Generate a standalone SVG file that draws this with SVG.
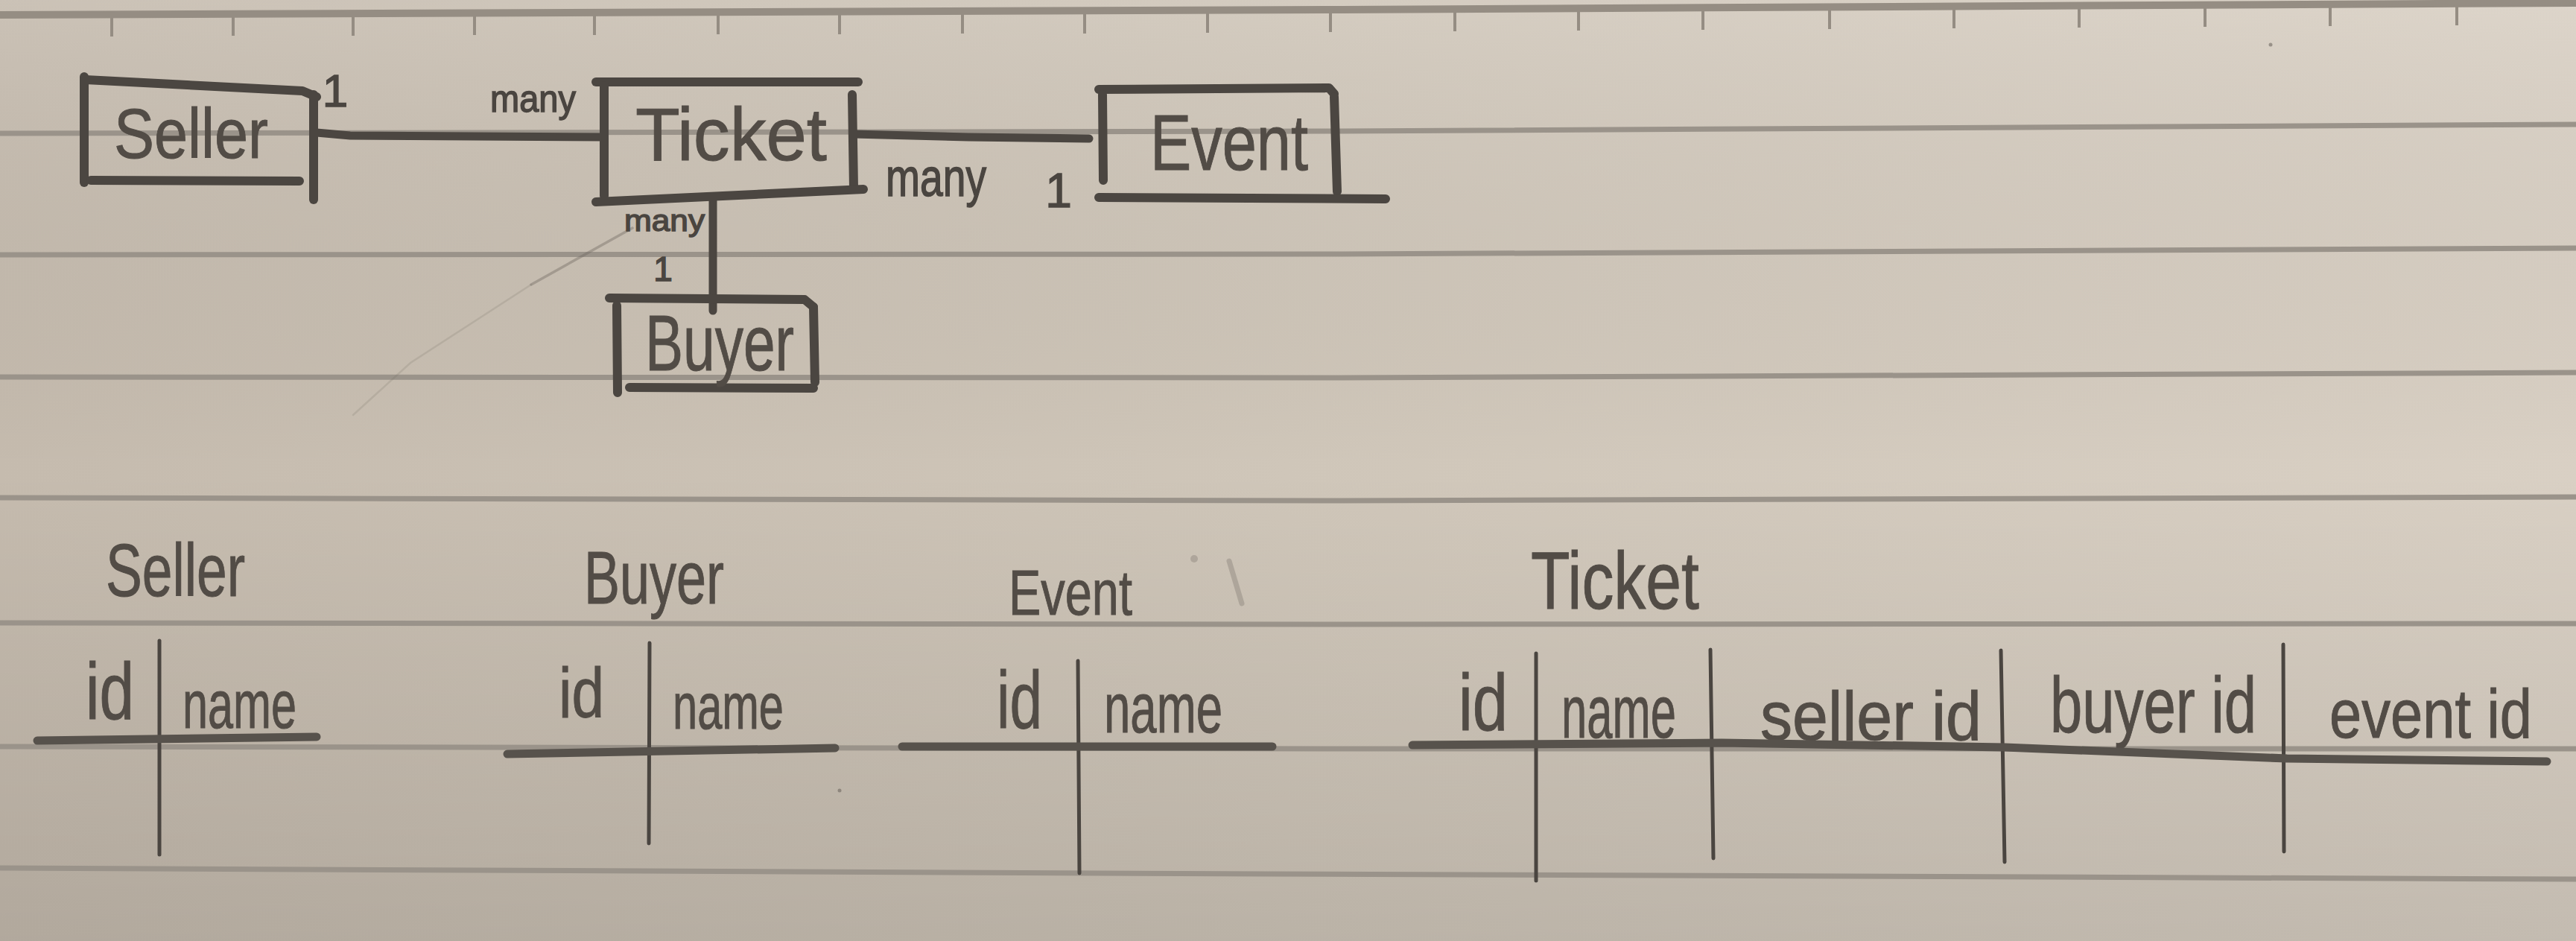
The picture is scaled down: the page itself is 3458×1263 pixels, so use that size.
<svg xmlns="http://www.w3.org/2000/svg" width="3458" height="1263" viewBox="0 0 3458 1263">
  <defs>
    <linearGradient id="paperH" x1="0" y1="0" x2="1" y2="0">
      <stop offset="0" stop-color="#c5bbae"/>
      <stop offset="0.5" stop-color="#cfc6b9"/>
      <stop offset="1" stop-color="#d9d0c4"/>
    </linearGradient>
    <linearGradient id="paperV" x1="0" y1="0" x2="0" y2="1">
      <stop offset="0" stop-color="#ffffff" stop-opacity="0.10"/>
      <stop offset="0.5" stop-color="#000000" stop-opacity="0"/>
      <stop offset="1" stop-color="#000000" stop-opacity="0.10"/>
    </linearGradient>
    <style>
      .rule { fill: none; stroke: #9a938a; stroke-width: 7; stroke-linecap: round; }
      .rule-top { fill: none; stroke: #958d83; stroke-width: 10; stroke-linecap: round; }
      .tick { fill: none; stroke: #958d83; stroke-width: 4; }
      .box { fill: none; stroke: #4b4641; stroke-width: 12; stroke-linecap: round; stroke-linejoin: round; }
      .conn { fill: none; stroke: #4b4641; stroke-width: 11; stroke-linecap: round; }
      .hdr { fill: none; stroke: #57524c; stroke-width: 11; stroke-linecap: round; stroke-linejoin: round; }
      .col { fill: none; stroke: #4a4540; stroke-width: 5; stroke-linecap: round; }
      .faint { fill: none; stroke: #6e6760; stroke-linecap: round; }
      .hw { font-family: "Liberation Sans", Arial, sans-serif; fill: #524c46; stroke: #524c46; stroke-width: 1; }
      .lbl { font-family: "Liberation Sans", Arial, sans-serif; fill: #4a4540; stroke: #4a4540; stroke-width: 1.5; }
    </style>
  </defs>

  <g id="paper">
    <rect x="0" y="0" width="3458" height="1263" fill="url(#paperH)"/>
    <rect x="0" y="0" width="3458" height="1263" fill="url(#paperV)"/>
    <polyline class="rule-top" points="0,20 1800,13 3458,4"/>
    <polyline class="rule" points="0,179 1800,176 3458,167"/>
    <polyline class="rule" points="0,342 1800,341 3458,333"/>
    <polyline class="rule" points="0,506 1800,507 3458,500"/>
    <polyline class="rule" points="0,668 1800,672 3458,667"/>
    <polyline class="rule" points="0,836 1800,838 3458,837"/>
    <polyline class="rule" points="0,1002 1800,1005 3458,1005"/>
    <polyline class="rule" points="0,1165 1700,1173 3458,1180"/>
    <g id="ticks">
      <line class="tick" x1="150" y1="18" x2="150" y2="49"/>
      <line class="tick" x1="313" y1="17" x2="313" y2="48"/>
      <line class="tick" x1="474" y1="17" x2="474" y2="48"/>
      <line class="tick" x1="637" y1="16" x2="637" y2="47"/>
      <line class="tick" x1="798" y1="16" x2="798" y2="47"/>
      <line class="tick" x1="964" y1="16" x2="964" y2="46"/>
      <line class="tick" x1="1127" y1="15" x2="1127" y2="46"/>
      <line class="tick" x1="1292" y1="15" x2="1292" y2="45"/>
      <line class="tick" x1="1456" y1="14" x2="1456" y2="45"/>
      <line class="tick" x1="1621" y1="14" x2="1621" y2="44"/>
      <line class="tick" x1="1786" y1="13" x2="1786" y2="43"/>
      <line class="tick" x1="1953" y1="12" x2="1953" y2="42"/>
      <line class="tick" x1="2119" y1="11" x2="2119" y2="41"/>
      <line class="tick" x1="2286" y1="10" x2="2286" y2="40"/>
      <line class="tick" x1="2456" y1="9" x2="2456" y2="39"/>
      <line class="tick" x1="2623" y1="8" x2="2623" y2="38"/>
      <line class="tick" x1="2791" y1="7" x2="2791" y2="37"/>
      <line class="tick" x1="2960" y1="6" x2="2960" y2="36"/>
      <line class="tick" x1="3128" y1="5" x2="3128" y2="35"/>
      <line class="tick" x1="3298" y1="4" x2="3298" y2="34"/>
    </g>
    <g id="stray-marks">
      <path class="faint" d="M849,306 L713,382" stroke-width="3.5" opacity="0.4"/>
      <path class="faint" d="M713,382 L551,487 L474,557" stroke-width="2.5" opacity="0.18"/>
      <path class="faint" d="M1650,753 L1667,810" stroke-width="7" opacity="0.3"/>
      <circle cx="1603" cy="750" r="5" fill="#6e6760" opacity="0.3"/>
      <circle cx="3048" cy="60" r="2.5" fill="#6e6760" opacity="0.6"/>
      <circle cx="1127" cy="1061" r="2.5" fill="#6e6760" opacity="0.6"/>
    </g>
  </g>

  <g id="connectors">
    <path class="conn" d="M425,178 L470,182 L811,184"/>
    <path class="conn" d="M1146,180 L1300,184 L1462,186"/>
    <path class="conn" d="M957,268 L957,417"/>
  </g>

  <g id="connector-labels">
    <text class="lbl" x="450" y="143" font-size="62" text-anchor="middle">1</text>
    <text class="lbl" x="658" y="150" font-size="52" textLength="115" lengthAdjust="spacingAndGlyphs">many</text>
    <text class="lbl" x="1189" y="263" font-size="72" textLength="135" lengthAdjust="spacingAndGlyphs">many</text>
    <text class="lbl" x="1421" y="278" font-size="64" text-anchor="middle">1</text>
    <text class="lbl" x="838" y="310" font-size="40" textLength="108" lengthAdjust="spacingAndGlyphs">many</text>
    <text class="lbl" x="890" y="377" font-size="46" text-anchor="middle">1</text>
  </g>

  <g id="node-seller">
    <path class="box" d="M115,107 L406,122 L425,130"/>
    <path class="box" d="M113,103 L113,245"/>
    <path class="box" d="M122,242 L402,243"/>
    <path class="box" d="M421,127 L421,268"/>
    <text class="hw" x="153" y="212" font-size="95" textLength="207" lengthAdjust="spacingAndGlyphs">Seller</text>
  </g>

  <g id="node-ticket">
    <path class="box" d="M800,110 L1152,110"/>
    <path class="box" d="M811,115 L811,263"/>
    <path class="box" d="M1144,127 L1146,253"/>
    <path class="box" d="M800,271 L1159,254"/>
    <text class="hw" x="853" y="215" font-size="100" textLength="257" lengthAdjust="spacingAndGlyphs">Ticket</text>
  </g>

  <g id="node-event">
    <path class="box" d="M1475,120 L1784,118 L1791,126"/>
    <path class="box" d="M1480,127 L1481,242"/>
    <path class="box" d="M1791,130 L1795,257"/>
    <path class="box" d="M1475,265 L1860,267"/>
    <text class="hw" x="1544" y="228" font-size="105" textLength="212" lengthAdjust="spacingAndGlyphs">Event</text>
  </g>

  <g id="node-buyer">
    <path class="box" d="M818,400 L1080,402 L1092,412"/>
    <path class="box" d="M828,410 L829,527"/>
    <path class="box" d="M1092,412 L1094,513"/>
    <path class="box" d="M845,520 L1092,521"/>
    <text class="hw" x="866" y="497" font-size="105" textLength="200" lengthAdjust="spacingAndGlyphs">Buyer</text>
  </g>

  <g id="table-seller">
    <text class="hw" x="142" y="800" font-size="100" textLength="187" lengthAdjust="spacingAndGlyphs">Seller</text>
    <text class="hw" x="115" y="965" font-size="108" textLength="65" lengthAdjust="spacingAndGlyphs">id</text>
    <text class="hw" x="245" y="977" font-size="90" textLength="153" lengthAdjust="spacingAndGlyphs">name</text>
    <path class="col" d="M214,860 L214,1147"/>
    <path class="hdr" d="M50,994 L425,989"/>
  </g>

  <g id="table-buyer">
    <text class="hw" x="784" y="810" font-size="100" textLength="188" lengthAdjust="spacingAndGlyphs">Buyer</text>
    <text class="hw" x="750" y="963" font-size="95" textLength="61" lengthAdjust="spacingAndGlyphs">id</text>
    <text class="hw" x="903" y="978" font-size="88" textLength="149" lengthAdjust="spacingAndGlyphs">name</text>
    <path class="col" d="M872,863 L871,1132"/>
    <path class="hdr" d="M681,1012 L1121,1004"/>
  </g>

  <g id="table-event">
    <text class="hw" x="1354" y="825" font-size="85" textLength="166" lengthAdjust="spacingAndGlyphs">Event</text>
    <text class="hw" x="1338" y="977" font-size="110" textLength="61" lengthAdjust="spacingAndGlyphs">id</text>
    <text class="hw" x="1482" y="983" font-size="95" textLength="159" lengthAdjust="spacingAndGlyphs">name</text>
    <path class="col" d="M1447,887 L1449,1172"/>
    <path class="hdr" d="M1211,1002 L1708,1002"/>
  </g>

  <g id="table-ticket">
    <text class="hw" x="2055" y="817" font-size="110" textLength="226" lengthAdjust="spacingAndGlyphs">Ticket</text>
    <text class="hw" x="1958" y="980" font-size="108" textLength="66" lengthAdjust="spacingAndGlyphs">id</text>
    <text class="hw" x="2096" y="990" font-size="100" textLength="154" lengthAdjust="spacingAndGlyphs">name</text>
    <text class="hw" x="2363" y="993" font-size="92" textLength="297" lengthAdjust="spacingAndGlyphs">seller id</text>
    <text class="hw" x="2752" y="983" font-size="105" textLength="277" lengthAdjust="spacingAndGlyphs">buyer id</text>
    <text class="hw" x="3127" y="990" font-size="92" textLength="272" lengthAdjust="spacingAndGlyphs">event id</text>
    <path class="col" d="M2062,877 L2062,1182"/>
    <path class="col" d="M2296,872 L2300,1152"/>
    <path class="col" d="M2686,873 L2691,1157"/>
    <path class="col" d="M3065,865 L3066,1143"/>
    <path class="hdr" d="M1896,1000 L2311,997 L2691,1003 L3070,1018 L3419,1022"/>
  </g>
</svg>
